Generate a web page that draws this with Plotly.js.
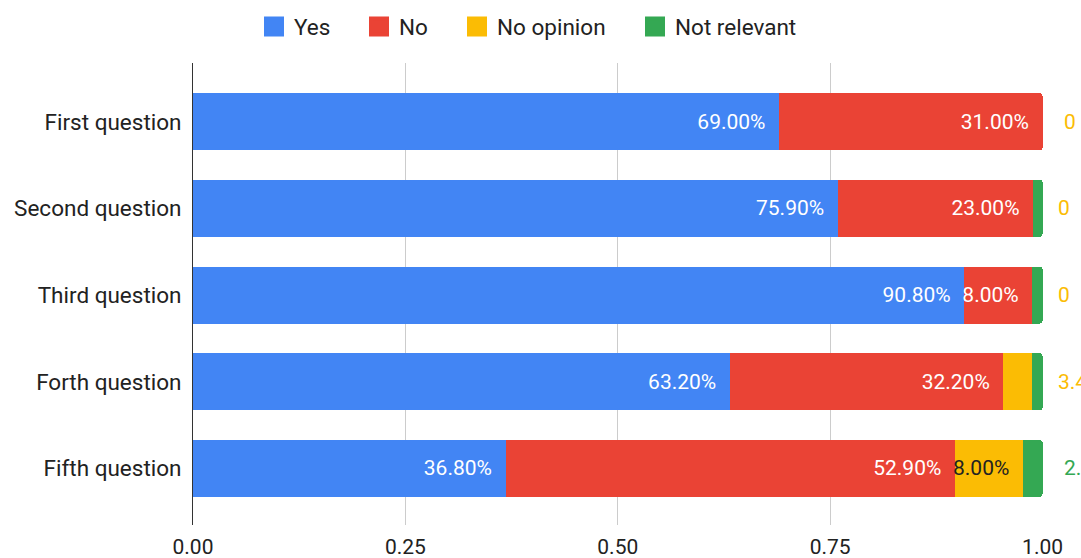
<!DOCTYPE html>
<html>
<head>
<meta charset="utf-8">
<script src="https://cdn.plot.ly/plotly-3.0.1.min.js"></script>
<style>html,body{margin:0;padding:0;background:#fff;}#chart{width:1081px;height:558px;}</style>
</head>
<body>
<div id="chart"></div>
<script>
var categories = ['First question', 'Second question', 'Third question', 'Forth question', 'Fifth question'];
var seriesNames = ['Yes', 'No', 'No opinion', 'Not relevant'];
var yesValues = [0.690, 0.759, 0.908, 0.632, 0.368];
var noValues = [0.310, 0.230, 0.080, 0.322, 0.529];
var noOpinionValues = [0.000, 0.000, 0.000, 0.034, 0.080];
var notRelevantValues = [0.000, 0.011, 0.012, 0.012, 0.023];
var xTickValues = [0, 0.25, 0.5, 0.75, 1.0];
var xTickLabels = ['0.00', '0.25', '0.50', '0.75', '1.00'];

// styling (not data)
var colors = ['#4285F4', '#EA4335', '#FBBC04', '#34A853'];
var insideTextColors = ['#ffffff', '#ffffff', '#222222', '#ffffff'];
var outsideLabelShift = [19, 13, 13, 13, 19];
var FONT = 'Roboto, Arial, sans-serif';
var FS = 21;
var FS_BIG = 22.5;
var MIN_INSIDE = 0.05;

function fmt(v) { return v === 0 ? '0' : (v * 100).toFixed(2) + '%'; }

var measureCtx = document.createElement('canvas').getContext('2d');
measureCtx.font = FS_BIG + 'px Roboto';
function textWidth(t) { return measureCtx.measureText(t).width; }

var allSeries = [yesValues, noValues, noOpinionValues, notRelevantValues];
var traces = [];
allSeries.forEach(function (vals, s) {
  traces.push({
    type: 'bar', orientation: 'h', name: seriesNames[s],
    x: vals, y: categories,
    marker: {color: colors[s], line: {width: 0}},
    text: vals.map(function (v) { return v >= MIN_INSIDE ? fmt(v) + '\u2002' : ''; }),
    textposition: 'inside', insidetextanchor: 'end', textangle: 0,
    constraintext: 'none',
    insidetextfont: {family: FONT, size: FS, color: insideTextColors[s]},
    hoverinfo: 'none', showlegend: false
  });
});
// legend entries
seriesNames.forEach(function (n, s) {
  traces.push({
    type: 'scatter', mode: 'markers', name: n, x: [null], y: [null],
    marker: {symbol: 'square', size: 16, color: colors[s], line: {color: colors[s], width: 4}},
    legendwidth: Math.round(textWidth(n) + 24),
    showlegend: true, hoverinfo: 'none'
  });
});

// outside labels for small segments
var annotations = [];
categories.forEach(function (c, i) {
  var total = 0;
  allSeries.forEach(function (vals) { total += vals[i]; });
  for (var s = 0; s < allSeries.length; s++) {
    var v = allSeries[s][i];
    if (v < MIN_INSIDE) {
      annotations.push({
        x: total, y: c, xref: 'x', yref: 'y', text: fmt(v), showarrow: false,
        xanchor: 'left', xshift: outsideLabelShift[i],
        font: {family: FONT, size: FS, color: colors[s]}
      });
      break;
    }
  }
});

var layout = {
  width: 1081, height: 558,
  margin: {l: 193, r: 38, t: 63, b: 33, autoexpand: false},
  paper_bgcolor: '#ffffff', plot_bgcolor: '#ffffff',
  barmode: 'stack', bargap: 0.343, barcornerradius: 3,
  font: {family: FONT, size: FS, color: '#222222'},
  showlegend: true,
  legend: {orientation: 'h', traceorder: 'normal', x: 0.0718, xanchor: 'left', y: 1.078, yanchor: 'middle',
           font: {family: FONT, size: FS_BIG, color: '#222222'}, bgcolor: 'rgba(0,0,0,0)'},
  xaxis: {range: [0, 1.0005], tickvals: xTickValues, ticktext: xTickLabels,
          showgrid: true, gridcolor: '#cccccc', gridwidth: 1, zeroline: false,
          showline: false, ticks: '', ticklabelstandoff: 7,
          tickfont: {family: FONT, size: FS, color: '#222222'}, fixedrange: true},
  yaxis: {type: 'category', range: [4.652, -0.677], showgrid: false, zeroline: false,
          showline: true, linecolor: '#333333', linewidth: 1, ticks: '',
          ticklabelstandoff: 6,
          tickfont: {family: FONT, size: FS_BIG, color: '#222222'}, fixedrange: true},
  annotations: annotations
};

Plotly.newPlot('chart', traces, layout, {displayModeBar: false, staticPlot: true});
</script>
</body>
</html>
